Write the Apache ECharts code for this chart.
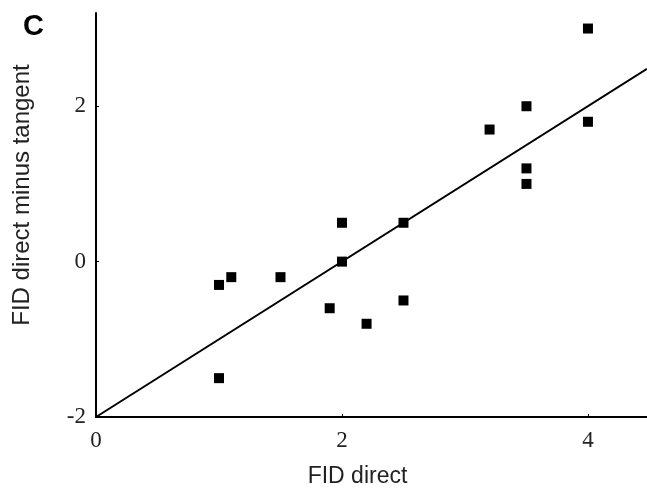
<!DOCTYPE html>
<html>
<head>
<meta charset="utf-8">
<script src="https://cdn.jsdelivr.net/npm/echarts@6/dist/echarts.min.js"></script>
<style>
  html, body { margin: 0; padding: 0; background: #fff; }
  #main { width: 647px; height: 497px; }
</style>
</head>
<body>
<div id="main"></div>
<script>
// FID direct (x) vs FID direct minus tangent (y)
const fidDirect = [1, 1.1, 1, 1.5, 1.9, 2, 2, 2.2, 2.5, 2.5, 3.2, 3.5, 3.5, 3.5, 4, 4]
const fidDiff = [-0.3, -0.2, -1.5, -0.2, -0.6, 0.5, 0, -0.8, 0.5, -0.5, 1.7, 2, 1.2, 1, 3, 1.8]
// fitted line y = x - 2
const fitX = [0, 4.48]
const fitY = [-2, 2.48]
const xTicks = [0, 2, 4]
const yTicks = [-2, 0, 2]

const chartDom = document.getElementById('main')
const myChart = echarts.init(chartDom)

const serif = '"Liberation Serif", "DejaVu Serif", serif'
const sans = '"Liberation Sans", Arial, sans-serif'

myChart.setOption({
  animation: false,
  grid: {
    left: 96,
    right: 0,
    top: 13,
    bottom: 80
  },
  graphic: [{
    type: 'text',
    left: 23,
    top: 12,
    style: {
      text: 'C',
      font: 'bold 29px ' + sans,
      fill: '#000'
    }
  }],
  xAxis: {
    type: 'value',
    min: 0,
    max: 4.48,
    interval: 2,
    name: 'FID direct',
    nameLocation: 'middle',
    nameGap: 48,
    nameTextStyle: {
      fontFamily: sans,
      fontSize: 23,
      color: '#222',
      padding: [0, 28, 0, 0]
    },
    axisLine: { onZero: false, lineStyle: { color: '#000', width: 2 } },
    axisTick: { inside: true, length: 3, customValues: xTicks, lineStyle: { color: '#000' } },
    splitLine: { show: false },
    axisLabel: {
      margin: 12,
      fontFamily: serif,
      fontSize: 23,
      color: '#222',
      customValues: xTicks
    }
  },
  yAxis: {
    type: 'value',
    min: -2,
    max: 3.2,
    interval: 2,
    name: 'FID direct minus tangent',
    nameLocation: 'middle',
    nameGap: 62,
    nameTextStyle: {
      fontFamily: sans,
      fontSize: 24,
      color: '#222',
      padding: [0, 0, 0, 40]
    },
    axisLine: { onZero: false, lineStyle: { color: '#000', width: 2 } },
    axisTick: { inside: true, length: 3, customValues: yTicks, lineStyle: { color: '#000' } },
    splitLine: { show: false },
    axisLabel: {
      margin: 10,
      fontFamily: serif,
      fontSize: 23,
      color: '#222',
      customValues: yTicks
    }
  },
  series: [
    {
      type: 'line',
      data: fitX.map((x, i) => [x, fitY[i]]),
      symbol: 'none',
      lineStyle: { color: '#000', width: 2 },
      silent: true
    },
    {
      type: 'scatter',
      data: fidDirect.map((x, i) => [x, fidDiff[i]]),
      symbol: 'rect',
      symbolSize: 10,
      itemStyle: { color: '#000', opacity: 1 }
    }
  ]
})
</script>
</body>
</html>
